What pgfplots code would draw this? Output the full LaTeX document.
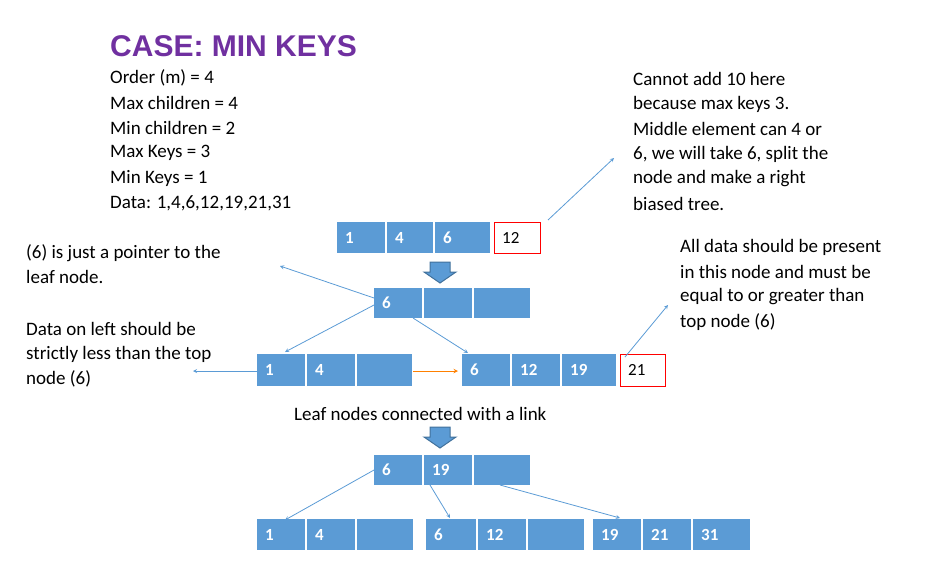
\documentclass[border=0pt]{standalone}
\usepackage{pgfplots}
\pgfplotsset{compat=1.18}
\usepackage{fontspec}
\setmainfont{Carlito}
\newfontfamily\tfont{Liberation Sans}
\definecolor{cb}{RGB}{91,155,213}
\definecolor{cbd}{RGB}{65,113,156}
\definecolor{pur}{RGB}{112,48,160}
\newcommand{\cell}[5]{\fill[cb] (axis cs:#1,#3) rectangle (axis cs:#2,#4);
 \node[anchor=west,text=white,font=\bfseries\fontsize{17bp}{20bp}\selectfont,inner sep=0] at (axis cs:#1+8,{(#3+#4)/2}) {#5};}
\newcommand{\txt}[3]{\node[anchor=west,inner sep=0,font=\fontsize{19bp}{22bp}\selectfont] at (axis cs:#1,#2) {#3};}
\newcommand{\barr}[2]{\fill[cb,draw=cbd,line width=1bp] (axis cs:#1-10,#2) -- (axis cs:#1+10,#2) -- (axis cs:#1+10,#2+10) -- (axis cs:#1+16,#2+10) -- (axis cs:#1,#2+21) -- (axis cs:#1-16,#2+10) -- (axis cs:#1-10,#2+10) -- cycle;}
\begin{document}
\begin{tikzpicture}
\begin{axis}[scale only axis,width=950bp,height=571bp,xmin=0,xmax=950,ymin=0,ymax=571,y dir=reverse,hide axis,clip=false]
\addplot[draw=none] coordinates {(0,0) (950,571)};
\node[anchor=west,inner sep=0,text=pur,font=\tfont\bfseries\fontsize{30bp}{32bp}\selectfont] at (axis cs:110,46) {CASE: MIN KEYS};
\txt{110}{78}{Order (m) = 4}
\txt{110}{103}{Max children = 4}
\txt{110}{128}{Min children = 2}
\txt{110}{153}{Max Keys = 3}
\txt{110}{178}{Min Keys = 1}
\txt{110}{203}{Data: 1,4,6,12,19,21,31}
\txt{633}{79}{Cannot add 10 here}
\txt{633}{104}{because max keys 3.}
\txt{633}{129}{Middle element can 4 or}
\txt{633}{154}{6, we will take 6, split the}
\txt{633}{179}{node and make a right}
\txt{633}{204}{biased tree.}
\txt{26}{253}{(6) is just a pointer to the}
\txt{26}{277}{leaf node.}
\txt{680}{247}{All data should be present}
\txt{680}{272}{in this node and must be}
\txt{680}{297}{equal to or greater than}
\txt{680}{322}{top node (6)}
\txt{26}{329}{Data on left should be}
\txt{26}{354}{strictly less than the top}
\txt{26}{379}{node (6)}
\txt{294}{414}{Leaf nodes connected with a link}
% row 1
\cell{337}{385}{222}{253}{1}\cell{387}{433}{222}{253}{4}\cell{435}{490}{222}{253}{6}
\draw[red,line width=1bp] (axis cs:494,222) rectangle (axis cs:540,253);
\node[anchor=west,inner sep=0,font=\fontsize{17bp}{20bp}\selectfont] at (axis cs:502,238) {12};
% row 2
\cell{374}{422}{288}{318}{6}\cell{424}{472}{288}{318}{}\cell{474}{530}{288}{318}{}
% row 3
\cell{257}{305}{354}{386}{1}\cell{307}{355}{354}{386}{4}\cell{357}{412}{354}{386}{}
\cell{462}{510}{354}{386}{6}\cell{512}{560}{354}{386}{12}\cell{562}{616}{354}{386}{19}
\draw[red,line width=1bp] (axis cs:620,354) rectangle (axis cs:665,386);
\node[anchor=west,inner sep=0,font=\fontsize{17bp}{20bp}\selectfont] at (axis cs:628,370) {21};
% row 4
\cell{374}{422}{455}{485}{6}\cell{424}{472}{455}{485}{19}\cell{474}{530}{455}{485}{}
% row 5
\cell{257}{305}{519}{550}{1}\cell{307}{355}{519}{550}{4}\cell{357}{413}{519}{550}{}
\cell{426}{476}{519}{550}{6}\cell{478}{526}{519}{550}{12}\cell{528}{584}{519}{550}{}
\cell{593}{641}{519}{550}{19}\cell{643}{691}{519}{550}{21}\cell{693}{750}{519}{550}{31}
\barr{440}{262}\barr{440}{427}
\begin{scope}[cb,line width=0.8bp,-stealth]
\draw (axis cs:548,220) -- (axis cs:614,158);
\draw (axis cs:374,298) -- (axis cs:280,266);
\draw (axis cs:374,305) -- (axis cs:285,352);
\draw (axis cs:413,318) -- (axis cs:468,353);
\draw (axis cs:625,357) -- (axis cs:668,305);
\draw (axis cs:257,371) -- (axis cs:193,371);
\draw (axis cs:374,470) -- (axis cs:285,520);
\draw (axis cs:430,485) -- (axis cs:450,518);
\draw (axis cs:500,485) -- (axis cs:620,518);
\end{scope}
\draw[orange,line width=1bp,-stealth] (axis cs:413,371) -- (axis cs:458,371);
\end{axis}
\end{tikzpicture}
\end{document}
